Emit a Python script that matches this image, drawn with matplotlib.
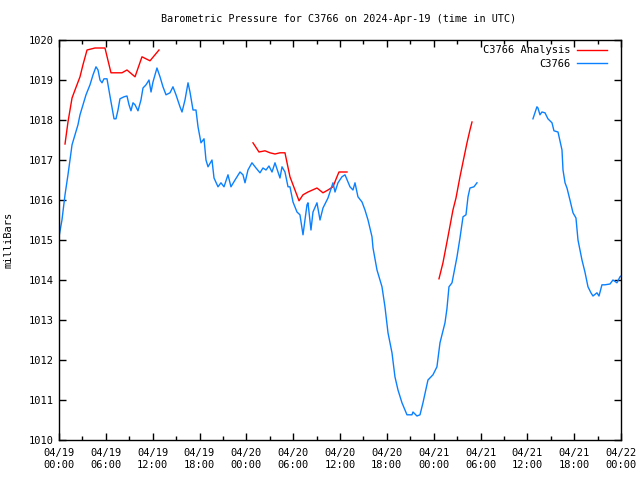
import numpy as np
import matplotlib
matplotlib.use("Agg")
import matplotlib.pyplot as plt
from matplotlib.ticker import MultipleLocator

# Hours since 2024-04-19 00:00 UTC, pressure in mb
obs1_h = [0.0, 0.38, 0.77, 1.15, 1.41, 1.67, 2.05, 2.43, 2.69, 3.07, 3.46, 3.97, 4.36, 4.74, 5.0, 5.25, 5.51, 5.76,
          6.15, 6.53, 7.05, 7.3, 7.56, 7.81, 8.33, 8.71, 8.97, 9.22, 9.48, 9.74, 10.12, 10.5, 10.76, 11.15, 11.53,
          11.79, 12.04, 12.55, 12.94, 13.32, 13.71, 14.22, 14.6, 14.99, 15.5, 15.76, 16.14, 16.53, 16.78, 17.17,
          17.55, 17.81, 18.19, 18.58, 18.83, 19.09, 19.6, 19.86, 20.37, 20.75, 21.14, 21.65, 22.03, 22.55, 23.19,
          23.57, 23.83, 24.21, 24.72, 25.24, 25.75, 26.13, 26.52, 26.9, 27.29, 27.67, 28.31, 28.57, 28.95, 29.34,
          29.59, 29.98, 30.49, 30.87, 31.26, 31.77, 31.9, 32.28, 32.54, 33.05, 33.44, 33.82, 34.46, 35.1, 35.36,
          35.74, 36.25, 36.64, 37.28, 37.66, 37.92, 38.3, 38.82, 39.2, 39.59, 40.1, 40.23, 40.74, 41.38, 41.76,
          42.15, 42.66, 43.04, 43.43, 43.94, 44.58, 45.22, 45.35, 45.86, 46.25, 46.63, 47.27, 47.91, 48.42, 48.81,
          49.45, 49.7, 49.96, 50.35, 50.6, 50.99, 51.37, 51.76, 52.14, 52.4, 52.65, 53.16, 53.55]
obs1_p = [1015.08, 1015.5, 1016.13, 1016.63, 1017.0, 1017.38, 1017.63, 1017.88, 1018.13, 1018.38, 1018.63, 1018.88,
          1019.13, 1019.33, 1019.25, 1019.0, 1018.93, 1019.03, 1019.03, 1018.6, 1018.03, 1018.03, 1018.25, 1018.53,
          1018.58, 1018.6, 1018.38, 1018.23, 1018.43, 1018.38, 1018.23, 1018.5, 1018.8, 1018.88, 1019.0, 1018.7,
          1018.95, 1019.3, 1019.08, 1018.83, 1018.63, 1018.68, 1018.83, 1018.63, 1018.33, 1018.2, 1018.5, 1018.93,
          1018.7, 1018.25, 1018.25, 1017.83, 1017.43, 1017.53, 1017.0, 1016.83, 1017.0, 1016.55, 1016.33, 1016.43,
          1016.33, 1016.63, 1016.33, 1016.5, 1016.7, 1016.63, 1016.43, 1016.75, 1016.93, 1016.8, 1016.68, 1016.8,
          1016.75, 1016.85, 1016.7, 1016.93, 1016.55, 1016.83, 1016.7, 1016.33, 1016.33, 1015.95, 1015.7, 1015.63,
          1015.13, 1015.88, 1015.93, 1015.25, 1015.7, 1015.93, 1015.5, 1015.8, 1016.05, 1016.43, 1016.2, 1016.43,
          1016.58, 1016.63, 1016.33, 1016.25, 1016.43, 1016.08, 1015.95, 1015.75, 1015.5, 1015.08, 1014.8, 1014.25,
          1013.83, 1013.33, 1012.68, 1012.18, 1011.58, 1011.25, 1010.93, 1010.63, 1010.63, 1010.7, 1010.6, 1010.63,
          1010.93, 1011.5, 1011.63, 1011.83, 1012.43, 1012.93, 1013.28, 1013.83, 1013.93, 1014.18, 1014.58, 1015.05,
          1015.58, 1015.63, 1016.08, 1016.3, 1016.33, 1016.43]
obs2_h = [60.72, 61.23, 61.36, 61.62, 61.87, 62.26, 62.64, 63.16, 63.41, 63.93, 64.44, 64.57, 64.83, 65.08, 65.46,
          65.85, 66.23, 66.49, 67.0, 67.38, 67.77, 68.15, 68.41, 68.92, 69.18, 69.56, 69.95, 70.59, 70.97, 71.48,
          71.87, 72.0]
obs2_p = [1018.03, 1018.33, 1018.3, 1018.13, 1018.2, 1018.18, 1018.03, 1017.93, 1017.73, 1017.7, 1017.25, 1016.75,
          1016.43, 1016.3, 1016.0, 1015.68, 1015.55, 1015.0, 1014.5, 1014.2, 1013.83, 1013.68, 1013.6, 1013.68,
          1013.6, 1013.88, 1013.88, 1013.9, 1014.0, 1013.93, 1014.08, 1014.1]

ana1_h = [0.77, 1.15, 1.67, 2.05, 2.69, 3.07, 3.59, 4.61, 5.89, 6.66, 8.07, 8.71, 9.74, 10.63, 11.66, 12.81]
ana1_p = [1017.4, 1017.95, 1018.55, 1018.75, 1019.08, 1019.38, 1019.75, 1019.8, 1019.8, 1019.18, 1019.18, 1019.25,
          1019.08, 1019.58, 1019.48, 1019.75]
ana2_h = [24.85, 25.62, 26.39, 27.03, 27.67, 28.31, 28.95, 29.59, 30.23, 30.75, 31.26, 31.9, 33.05, 33.82, 34.46,
          35.1, 35.61, 35.87, 36.9]
ana2_p = [1017.43, 1017.2, 1017.23, 1017.18, 1017.15, 1017.18, 1017.18, 1016.58, 1016.25, 1015.98, 1016.13, 1016.2,
          1016.3, 1016.18, 1016.25, 1016.33, 1016.58, 1016.7, 1016.7]
ana3_h = [48.68, 49.19, 49.83, 50.47, 50.86, 51.37, 51.76, 52.27, 52.65, 52.91]
ana3_p = [1014.03, 1014.43, 1015.08, 1015.75, 1016.05, 1016.58, 1016.95, 1017.43, 1017.75, 1017.95]

tick_hours = list(range(0, 73, 6))
tick_labels = ["04/19\n00:00", "04/19\n06:00", "04/19\n12:00", "04/19\n18:00",
               "04/20\n00:00", "04/20\n06:00", "04/20\n12:00", "04/20\n18:00",
               "04/21\n00:00", "04/21\n06:00", "04/21\n12:00", "04/21\n18:00",
               "04/22\n00:00"]

RED = "#ff0000"
BLUE = "#0a80ff"
FONT = "DejaVu Sans Mono"
plt.rcParams['font.family'] = FONT

fig = plt.figure(figsize=(6.4, 4.8), dpi=100)
ax = fig.add_axes([59/640, 1-440/480, (621-59)/640, 400/480])

ax.plot(ana1_h, ana1_p, color=RED, lw=1.0, label="C3766 Analysis")
ax.plot(ana2_h, ana2_p, color=RED, lw=1.0)
ax.plot(ana3_h, ana3_p, color=RED, lw=1.0)
ax.plot(obs1_h, obs1_p, color=BLUE, lw=1.0, label="C3766")
ax.plot(obs2_h, obs2_p, color=BLUE, lw=1.0)

ax.set_xlim(0, 72)
ax.set_ylim(1010, 1020)
ax.set_xticks(tick_hours)
ax.set_xticklabels(tick_labels, fontsize=7.5)
ax.xaxis.set_minor_locator(MultipleLocator(3))
ax.set_yticks(range(1010, 1021))
ax.tick_params(axis='y', labelsize=7.5)
ax.tick_params(which='both', direction='in', top=True, right=True, width=1, color='black')
ax.tick_params(which='major', length=5)
ax.tick_params(which='minor', length=3)
ax.tick_params(axis='x', pad=6)
for s in ax.spines.values():
    s.set_linewidth(1.0)

ax.set_ylabel("milliBars", fontsize=7.5, labelpad=11)
fig.text(339/640, 1-19/480, "Barometric Pressure for C3766 on 2024-Apr-19 (time in UTC)",
         ha='center', va='center', fontsize=7.3)

leg = ax.legend(loc='upper right', frameon=False, markerfirst=False, fontsize=7.5,
                handlelength=2.9, handletextpad=0.55, labelspacing=0.35,
                borderaxespad=0.0, bbox_to_anchor=(1 - 10/562, 1 - 1/400))

fig.savefig("out.png", dpi=100)
